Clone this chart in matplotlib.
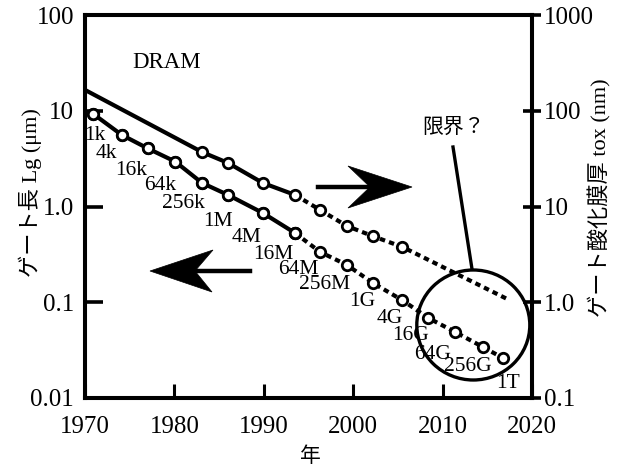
import matplotlib
matplotlib.use("Agg")
import matplotlib.pyplot as plt
from matplotlib.patches import Ellipse, Polygon
from matplotlib.lines import Line2D

plt.rcParams['font.family'] = ['Liberation Serif', 'Noto Sans CJK JP', 'DejaVu Sans']

# ---- data ----
lg_years = [1970.9, 1974.1, 1977.0, 1980.1, 1983.1, 1986.0, 1989.9, 1993.5,
            1996.3, 1999.3, 2002.2, 2005.5, 2008.4, 2011.4, 2014.5, 2016.8]
lg_um = [9.3, 5.6, 4.05, 2.94, 1.76, 1.32, 0.855, 0.528,
         0.335, 0.245, 0.159, 0.105, 0.0685, 0.0489, 0.0341, 0.026]
dram_labels = ['1k', '4k', '16k', '64k', '256k', '1M', '4M', '16M',
               '64M', '256M', '1G', '4G', '16G', '64G', '256G', '1T']

tox_years = [1970.0, 1983.1, 1986.0, 1989.9, 1993.5, 1996.3, 1999.3, 2002.2, 2005.5, 2017.5]
tox_nm = [165, 37, 28.5, 17.6, 13.2, 9.2, 6.25, 4.9, 3.78, 1.05]

xticks = [1970, 1980, 1990, 2000, 2010, 2020]
left_ticks = [0.01, 0.1, 1.0, 10, 100]
left_ticklabels = ['0.01', '0.1', '1.0', '10', '100']
right_ticks = [0.1, 1.0, 10, 100, 1000]
right_ticklabels = ['0.1', '1.0', '10', '100', '1000']

# label offsets (pixels) from each point
label_offsets = [(2, -22), (-15, -19), (-16, -22), (-15, -24), (-19, -21), (-10, -27),
                 (-16, -24), (-22, -21), (-22, -18), (-22, -20), (-11, -19), (-13, -18),
                 (-18, -18), (-23, -23), (-15, -20), (5, -25)]

# ---- figure ----
W, H = 618, 470
fig = plt.figure(figsize=(W / 100, H / 100), dpi=100)
L, R, T, B = 85, 532, 15, 398
ax = fig.add_axes([L / W, (H - B) / H, (R - L) / W, (B - T) / H])
ax2 = ax.twinx()

def px(x, y):
    return ((x - L) / (R - L), (B - y) / (B - T))

lw = 3.0
mk = dict(marker='o', markersize=7.5, markerfacecolor='white', markeredgecolor='black',
          markeredgewidth=2.0)
dotted = (0, (1.3, 1.0))

# gate length (left axis)
split = 8
ax.plot(lg_years[:split], lg_um[:split], color='black', lw=lw, solid_capstyle='butt', **mk, zorder=3)
ax.plot(lg_years[split - 1:], lg_um[split - 1:], color='black', lw=lw, linestyle=dotted, **mk, zorder=3)
ax.plot(lg_years[:split], lg_um[:split], linestyle='none', **mk, zorder=4)

for yr, v, lab, (dx, dy) in zip(lg_years, lg_um, dram_labels, label_offsets):
    ax.annotate(lab, (yr, v), xytext=(dx, dy), textcoords='offset pixels',
                ha='center', va='center', fontsize=15.5, family='Liberation Serif', zorder=5)

ax.set_xscale('linear')
ax.set_yscale('log')
ax.set_xlim(1970, 2020)
ax.set_ylim(0.01, 100)
ax.set_xticks(xticks)
ax.set_xticklabels([str(t) for t in xticks])
ax.set_yticks(left_ticks)
ax.set_yticklabels(left_ticklabels)
ax.minorticks_off()
ax.tick_params(axis='x', direction='in', length=10, width=2.2, pad=13, labelsize=18)
ax.tick_params(axis='y', direction='in', length=13, width=2.6, pad=8, labelsize=18)

# oxide thickness (right axis)
tsplit = 5
ax2.plot(tox_years[:tsplit], tox_nm[:tsplit], color='black', lw=lw, solid_capstyle='butt', zorder=3)
ax2.plot(tox_years[tsplit - 1:], tox_nm[tsplit - 1:], color='black', lw=lw, linestyle=dotted, zorder=3)
ax2.plot(tox_years[1:-1], tox_nm[1:-1], linestyle='none', **mk, zorder=4)
ax2.set_yscale('log')
ax2.set_ylim(0.1, 1000)
ax2.set_yticks(right_ticks)
ax2.set_yticklabels(right_ticklabels)
ax2.minorticks_off()
ax2.tick_params(axis='y', direction='inout', length=13, width=2.6, pad=2, labelsize=18)

for a in (ax, ax2):
    for s in a.spines.values():
        s.set_linewidth(2.9)

# ---- annotations ----
tr = ax2.transAxes
ax2.text(*px(167, 63), 'DRAM', transform=tr, ha='center', va='center', fontsize=16.5,
         family='Liberation Serif')

# right arrow
ax2.add_line(Line2D(*zip(px(318, 187), px(372, 187)), transform=tr, color='black', lw=3.2))
ax2.add_patch(Polygon([px(412, 187), px(348, 166), px(370, 187), px(348, 208)],
                      closed=True, transform=tr, facecolor='black', edgecolor='black', lw=0.5))
# left arrow
ax2.add_line(Line2D(*zip(px(193, 271), px(250, 271)), transform=tr, color='black', lw=3.2))
ax2.add_patch(Polygon([px(150, 271), px(213, 250), px(195, 271), px(212, 292)],
                      closed=True, transform=tr, facecolor='black', edgecolor='black', lw=0.5))

# limit circle and pointer
c = px(473.3, 325)
ax2.add_patch(Ellipse(c, 113 / (R - L), 110 / (B - T), transform=tr, fill=False,
                      edgecolor='black', lw=2.4, zorder=6))
ax2.add_line(Line2D(*zip(px(453, 147), px(472, 269)), transform=tr, color='black', lw=2.4))
ax2.text(*px(454, 127), '限界？', transform=tr, ha='center', va='center', fontsize=15,
         family=['Noto Sans CJK JP'])

# axis titles
ax2.text(*px(30, 193), 'ゲート長 Lg (μm)', transform=tr, rotation=90, ha='center', va='center',
         fontsize=16, family=['Liberation Serif', 'Noto Sans CJK JP'])
ax2.text(*px(600, 198), 'ゲート酸化膜厚 tox (nm)', transform=tr, rotation=90, ha='center',
         va='center', fontsize=16, family=['Liberation Serif', 'Noto Sans CJK JP'])
ax2.text(*px(310, 456), '年', transform=tr, ha='center', va='center', fontsize=15,
         family=['Noto Sans CJK JP'])

fig.savefig('out.png', dpi=100)
